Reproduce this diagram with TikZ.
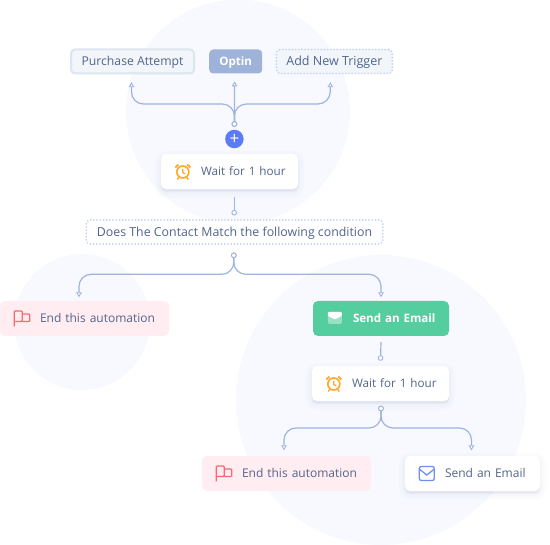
\documentclass[tikz,border=0pt]{standalone}
\usepackage{fontspec}
\setmainfont{Open Sans}
\usetikzlibrary{arrows.meta,positioning}
\definecolor{halo}{HTML}{F7F9FF}
\definecolor{slate}{HTML}{52658A}
\definecolor{wire}{HTML}{9FB3DF}
\definecolor{mist}{HTML}{F2F6FA}
\definecolor{mistline}{HTML}{DCE6EF}
\definecolor{dots}{HTML}{C8D3F0}
\definecolor{optinblue}{HTML}{9FB2D9}
\definecolor{blush}{HTML}{FFEDF2}
\definecolor{mint}{HTML}{54CE9F}
\definecolor{royal}{HTML}{5B7CF5}
\definecolor{amber}{HTML}{FFA726}
\definecolor{coral}{HTML}{F46A6F}
\definecolor{envblue}{HTML}{6F8FF5}
\tikzset{
  alarm/.pic={
    \draw[amber,line width=1.6pt] (0,0.5) circle[radius=6pt];
    \draw[amber,line width=1.2pt] (0,-2.5) -- (0,1) -- (2.5,2.5);
    \draw[amber,line width=1.8pt] (-7.5,-4) -- (-4.5,-7) (7.5,-4) -- (4.5,-7);
    \draw[amber,line width=1.4pt] (-4,6) -- (-5.5,8) (4,6) -- (5.5,8);
  },
  endflag/.pic={
    \draw[coral,line width=1.2pt,rounded corners=1pt] (-7.5,8) -- (-7.5,-7.5) -- (0.5,-7.5) -- (0.5,3) -- (-7.5,3);
    \draw[coral,line width=1.2pt,rounded corners=1pt] (0.5,-4.5) -- (8,-4.5) -- (8,3) -- (0.5,3);
  },
  mailfill/.pic={
    \fill[white,opacity=.4,rounded corners=1.5pt] (-7,-6.5) rectangle (7,5.5);
    \fill[white,rounded corners=1pt] (-7,-6.5) -- (7,-6.5) -- (7,-2.5) -- (0,1) -- (-7,-2.5) -- cycle;
  },
  mailline/.pic={
    \draw[envblue,line width=1.3pt,rounded corners=2pt] (-7.5,-7) rectangle (7.5,7);
    \draw[envblue,line width=1.3pt] (-7,-4) -- (0,1.5) -- (7,-4);
  }
}
\begin{document}
\begin{tikzpicture}[
    x=1pt,y=-1pt,
    font=\fontsize{12.2}{14}\selectfont,
    text=slate,
    halofill/.style={fill=halo},
    softbox/.style={rounded corners=5pt,fill=white,
      preaction={fill=black!60!blue,opacity=.012,draw=black!60!blue,line width=12pt,transform canvas={yshift=-3pt}},
      preaction={fill=black!60!blue,opacity=.012,draw=black!60!blue,line width=7pt,transform canvas={yshift=-3pt}},
      preaction={fill=black!60!blue,opacity=.02,draw=black!60!blue,line width=3pt,transform canvas={yshift=-2pt}}},
    trigger/.style={rounded corners=4pt,minimum height=24pt,inner sep=0pt,text height=12.5pt,text depth=4pt},
    dotbox/.style={draw=dots,line width=2pt,line cap=round,dash pattern=on 0pt off 3.2pt},
    stepbox/.style={text width=#1,minimum height=35pt,inner sep=0pt,align=left,text height=12.5pt,text depth=4pt},
    indent/.style={execute at begin node={\hspace*{#1}}},
    boldtext/.style={font=\fontsize{11.6}{14}\selectfont\bfseries},
    waittext/.style={font=\fontsize{11.7}{14}\selectfont},
    link/.style={draw=wire,line width=1.2pt,rounded corners=12pt,
      {Circle[open,fill=white,length=5.6pt,width=5.6pt,line width=.9pt]}-{Triangle[open,fill=white,length=5pt,width=5.5pt,line width=.9pt]}},
    plain link/.style={draw=wire,line width=1.2pt,
      -{Circle[open,fill=white,length=5.6pt,width=5.6pt,line width=.9pt]}}
  ]
  \useasboundingbox (0,0) rectangle (550,545);
  \fill[halofill] (238,111.5) circle[radius=112pt];
  \fill[halofill] (82,322) circle[radius=68pt];
  \fill[halofill] (381,400) circle[radius=145pt];

  % triggers
  \node[trigger,draw=mistline,line width=2pt,fill=mist,minimum width=123pt] (purchase) at (132.5,61.5) {Purchase Attempt};
  \node[trigger,fill=optinblue,text=white,boldtext,minimum width=53pt,right=14pt of purchase] (optin) {Optin};
  \node[trigger,dotbox,fill=mist,minimum width=116pt,right=13pt of optin,font=\fontsize{12.5}{14}\selectfont] (addnew) {Add New Trigger};
  \node[circle,fill=royal,text=white,minimum size=18.5pt,inner sep=0pt,font=\fontsize{17}{17}\selectfont] (plus) at (234.4,139) {+};

  % steps
  \node[softbox,stepbox=137pt,indent=40pt,waittext] (wait) at (229.5,171.5) {Wait for 1 hour};
  \node[trigger,dotbox,fill=white,minimum width=296.5pt,font=\fontsize{12.35}{14}\selectfont] (match) at (234.5,232) {Does The Contact Match the following condition};
  \node[rounded corners=5pt,fill=blush,stepbox=169pt,indent=40pt,font=\fontsize{12}{14}\selectfont] (endleft) at (84.5,318.5) {End this automation};
  \node[rounded corners=5pt,fill=mint,text=white,stepbox=136pt,indent=40pt,boldtext] (mailmint) at (381,318.5) {Send an Email};
  \node[softbox,stepbox=137pt,indent=40pt,waittext] (waitnext) at (380.5,383.5) {Wait for 1 hour};
  \node[rounded corners=5pt,fill=blush,stepbox=169pt,indent=40pt,font=\fontsize{12}{14}\selectfont] (endright) at (286.5,473.5) {End this automation};
  \node[softbox,stepbox=135pt,indent=40pt,font=\fontsize{12}{14}\selectfont] (mailwhite) at (472.5,473.5) {Send an Email};

  % icons
  \pic at ([xshift=22pt]wait.west) {alarm};
  \pic at ([xshift=22pt]waitnext.west) {alarm};
  \pic at ([xshift=22pt]endleft.west) {endflag};
  \pic at ([xshift=22pt]endright.west) {endflag};
  \pic at ([xshift=22pt]mailmint.west) {mailfill};
  \pic at ([xshift=22pt]mailwhite.west) {mailline};

  % connectors
  \coordinate (forktop) at (234.4,126.8);
  \draw[link] (forktop) -- (234.4,104) -- (131.5,104) -- ([xshift=-1pt,yshift=-7.7pt]purchase.south);
  \draw[link,rounded corners=0pt] (forktop) -- ([xshift=-1.1pt,yshift=-7.7pt]optin.south);
  \draw[link] (forktop) -- (234.4,104) -- (330,104) -- ([xshift=-4pt,yshift=-7.7pt]addnew.south);
  \draw[plain link] ([xshift=4.7pt,yshift=-8pt]wait.south) -- ([xshift=-.3pt,yshift=3.5pt]match.north);
  \draw[link] ([xshift=-.7pt,yshift=-7.5pt]match.south) -- (233.8,274.3) -- (79,274.3) -- ([xshift=-5.5pt,yshift=3.5pt]endleft.north);
  \draw[link] ([xshift=-.7pt,yshift=-7.5pt]match.south) -- (233.8,274.3) -- (381,274.3) -- ([yshift=3.5pt]mailmint.north);
  \draw[plain link] ([yshift=-6pt]mailmint.south) -- ([yshift=5pt]waitnext.north);
  \draw[link] ([xshift=.5pt,yshift=-4.5pt]waitnext.south) -- (381,428) -- (284,428) -- ([xshift=-2.5pt,yshift=5.5pt]endright.north);
  \draw[link] ([xshift=.5pt,yshift=-4.5pt]waitnext.south) -- (381,428) -- (471.5,428) -- ([xshift=-1pt,yshift=5.5pt]mailwhite.north);
\end{tikzpicture}
\end{document}
